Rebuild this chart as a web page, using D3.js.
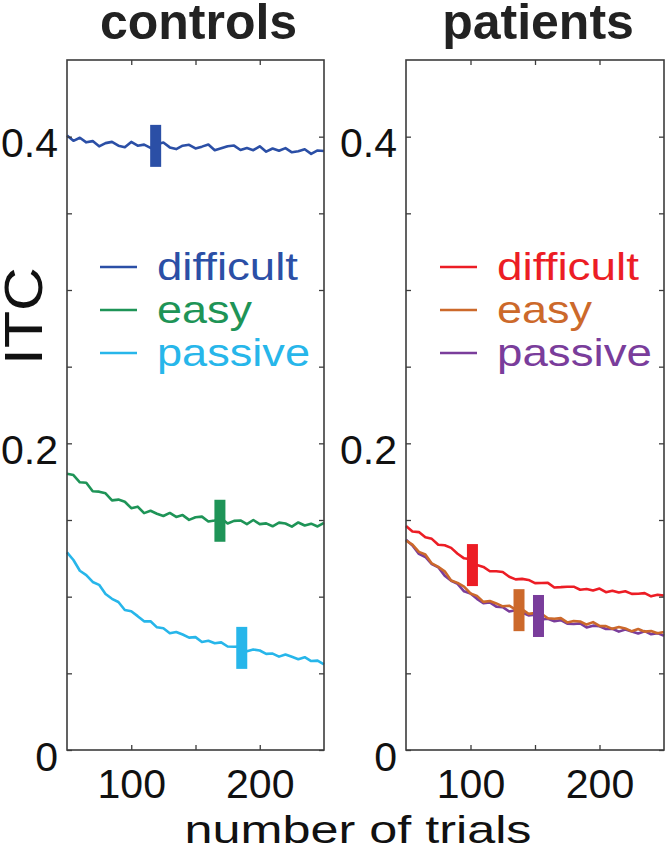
<!DOCTYPE html>
<html><head><meta charset="utf-8">
<script src="https://cdn.jsdelivr.net/npm/d3@7"></script>
<style>
body{margin:0;background:#fff}
svg{display:block}
text{font-family:"Liberation Sans",Arial,Helvetica,sans-serif}
</style>
</head><body>
<svg id="chart" width="667" height="853"></svg>
<script>
// ---------- data ----------
const trials = [50,55,60,65,70,75,80,85,90,95,
  100,105,110,115,120,125,130,135,140,145,
  150,155,160,165,170,175,180,185,190,195,
  200,205,210,215,220,225,230,235,240,245,
  250];

const panelTitles = ["controls", "patients"];
const conditionNames = ["difficult", "easy", "passive"];

const controlsDifficult = [0.4008,0.3973,0.3993,0.3963,0.3971,0.3937,0.3958,0.3966,0.3941,0.3931,
  0.3966,0.3941,0.3948,0.3927,0.3951,0.3962,0.3930,0.3919,0.3941,0.3947,
  0.3923,0.3935,0.3949,0.3911,0.3924,0.3938,0.3942,0.3913,0.3926,0.3912,
  0.3937,0.3902,0.3923,0.3908,0.3925,0.3898,0.3905,0.3918,0.3888,0.3910,
  0.3906];
const controlsEasy = [0.1802,0.1793,0.1746,0.1743,0.1688,0.1685,0.1674,0.1628,0.1633,0.1619,
  0.1577,0.1587,0.1545,0.1560,0.1541,0.1526,0.1546,0.1520,0.1532,0.1501,
  0.1518,0.1522,0.1490,0.1497,0.1511,0.1477,0.1494,0.1497,0.1473,0.1500,
  0.1473,0.1478,0.1459,0.1483,0.1477,0.1457,0.1484,0.1464,0.1476,0.1458,
  0.1482];
const controlsPassive = [0.1289,0.1239,0.1169,0.1141,0.1096,0.1077,0.1017,0.0986,0.0965,0.0913,
  0.0905,0.0873,0.0839,0.0840,0.0800,0.0794,0.0762,0.0770,0.0753,0.0733,
  0.0736,0.0704,0.0712,0.0696,0.0702,0.0675,0.0673,0.0675,0.0644,0.0655,
  0.0649,0.0627,0.0629,0.0609,0.0623,0.0608,0.0592,0.0605,0.0580,0.0583,
  0.0559];
const patientsDifficult = [0.1461,0.1425,0.1421,0.1387,0.1377,0.1339,0.1335,0.1318,0.1280,0.1250,
  0.1244,0.1206,0.1194,0.1166,0.1166,0.1161,0.1130,0.1113,0.1116,0.1109,
  0.1088,0.1089,0.1090,0.1060,0.1062,0.1065,0.1065,0.1045,0.1050,0.1040,
  0.1053,0.1029,0.1039,0.1027,0.1035,0.1018,0.1019,0.1023,0.1002,0.1012,
  0.1007];
const patientsEasy = [0.1365,0.1339,0.1292,0.1275,0.1217,0.1194,0.1165,0.1106,0.1090,0.1066,
  0.1021,0.1005,0.0966,0.0972,0.0956,0.0937,0.0941,0.0916,0.0918,0.0888,
  0.0893,0.0888,0.0859,0.0856,0.0860,0.0832,0.0841,0.0838,0.0818,0.0834,
  0.0809,0.0808,0.0790,0.0802,0.0793,0.0774,0.0789,0.0772,0.0776,0.0761,
  0.0769];
const patientsPassive = [0.1371,0.1334,0.1279,0.1259,0.1212,0.1192,0.1137,0.1104,0.1084,0.1035,
  0.1021,0.0986,0.0957,0.0963,0.0935,0.0932,0.0903,0.0912,0.0897,0.0878,
  0.0883,0.0852,0.0856,0.0840,0.0847,0.0824,0.0822,0.0826,0.0799,0.0811,
  0.0807,0.0789,0.0791,0.0772,0.0786,0.0773,0.0760,0.0775,0.0755,0.0762,
  0.0745];

// markers: [difficult, easy, passive]
const controlsMarkerTrials = [119, 169, 186];
const controlsMarkerValues = [0.3940, 0.1495, 0.0666];
const patientsMarkerTrials = [101.5, 137.6, 152.7];
const patientsMarkerValues = [0.1206, 0.0912, 0.0874];

const yTicks = [0, 0.05, 0.1, 0.15, 0.2, 0.25, 0.3, 0.35, 0.4];
const yTickLabels = {0: "0", 0.2: "0.2", 0.4: "0.4"};
const xTicks = [100, 150, 200];
const xTickLabels = {100: "100", 200: "200"};

const xLabel = "number of trials";
const yLabel = "ITC";

// ---------- styles / layout ----------
const controlsColors = ["#2b4fa6", "#1e9457", "#27b6ea"];
const patientsColors = ["#ec1d25", "#cc692b", "#7a3d9b"];
const frameColor = "#3c3c3c";
const panels = [
  {title: panelTitles[0], x0: 67, x1: 324, series: [controlsDifficult, controlsEasy, controlsPassive],
   colors: controlsColors, mT: controlsMarkerTrials, mV: controlsMarkerValues,
   legX: 100, drawOrder: [0,1,2], legTextW: [141, 95, 153]},
  {title: panelTitles[1], x0: 406, x1: 664, series: [patientsDifficult, patientsEasy, patientsPassive],
   colors: patientsColors, mT: patientsMarkerTrials, mV: patientsMarkerValues,
   legX: 440, drawOrder: [0,2,1], legTextW: [142, 95, 155]}
];
const plotTop = 60, plotBottom = 750;

const svg = d3.select("#chart");
const y = d3.scaleLinear().domain([0, 0.45]).range([plotBottom, plotTop]);

panels.forEach((p, pi) => {
  const x = d3.scaleLinear().domain([50, 250]).range([p.x0, p.x1]);
  const g = svg.append("g");

  // series lines
  const line = d3.line().x((d, i) => x(trials[i])).y(d => y(d));
  p.drawOrder.forEach(si => {
    g.append("path").datum(p.series[si])
      .attr("fill", "none").attr("stroke", p.colors[si])
      .attr("stroke-width", 2.6).attr("stroke-linejoin", "round")
      .attr("d", line);
  });
  // markers
  p.drawOrder.forEach(si => {
    g.append("rect")
      .attr("x", x(p.mT[si]) - 5.5).attr("width", 11)
      .attr("y", y(p.mV[si]) - 21).attr("height", 42)
      .attr("fill", p.colors[si]);
  });

  // axes (inward ticks)
  const axL = d3.axisLeft(y).tickValues(yTicks).tickSize(-5).tickPadding(9)
    .tickFormat(d => yTickLabels[d] || "");
  const axR = d3.axisRight(y).tickValues(yTicks).tickSize(-5).tickFormat("");
  const axB = d3.axisBottom(x).tickValues(xTicks).tickSize(-5).tickPadding(19)
    .tickFormat(d => xTickLabels[d] || "");
  const axT = d3.axisTop(x).tickValues(xTicks).tickSize(-5).tickFormat("");

  const gl = g.append("g").attr("transform", `translate(${p.x0},0)`).call(axL);
  const gr = g.append("g").attr("transform", `translate(${p.x1},0)`).call(axR);
  const gb = g.append("g").attr("transform", `translate(0,${plotBottom})`).call(axB);
  const gt = g.append("g").attr("transform", `translate(0,${plotTop})`).call(axT);
  [gl, gr, gb, gt].forEach(a => {
    a.select(".domain").remove();
    a.selectAll(".tick line").attr("stroke", frameColor).attr("stroke-width", 1.3);
    a.selectAll("text").attr("font-family", '"Liberation Sans",Arial,sans-serif')
      .attr("font-size", 41).attr("fill", "#111");
  });
  gl.selectAll("text").attr("dy", "0.49em");

  // frame
  g.append("rect").attr("x", p.x0).attr("y", plotTop)
    .attr("width", p.x1 - p.x0).attr("height", plotBottom - plotTop)
    .attr("fill", "none").attr("stroke", frameColor).attr("stroke-width", 1.6);

  // title
  g.append("text").attr("x", (p.x0 + p.x1) / 2 + 3).attr("y", 39)
    .attr("text-anchor", "middle").attr("font-size", 50).attr("font-weight", "bold")
    .attr("fill", "#222").text(p.title);

  // legend
  conditionNames.forEach((name, si) => {
    const by = 280 + si * 43;
    g.append("line").attr("x1", p.legX).attr("x2", p.legX + 37)
      .attr("y1", by - 13).attr("y2", by - 13)
      .attr("stroke", p.colors[si]).attr("stroke-width", 2.6);
    g.append("text").attr("x", p.legX + 57).attr("y", by)
      .attr("font-size", 39).attr("fill", p.colors[si])
      .attr("textLength", p.legTextW[si]).attr("lengthAdjust", "spacingAndGlyphs")
      .text(name);
  });
});

// axis labels
svg.append("text").attr("x", 358).attr("y", 843).attr("text-anchor", "middle")
  .attr("font-size", 39).attr("fill", "#111")
  .attr("textLength", 347).attr("lengthAdjust", "spacingAndGlyphs").text(xLabel);
svg.append("text").attr("transform", "translate(42,316) rotate(-90)")
  .attr("text-anchor", "middle").attr("font-size", 54).attr("fill", "#111")
  .attr("textLength", 98).attr("lengthAdjust", "spacingAndGlyphs").text(yLabel);
</script>
</body></html>
